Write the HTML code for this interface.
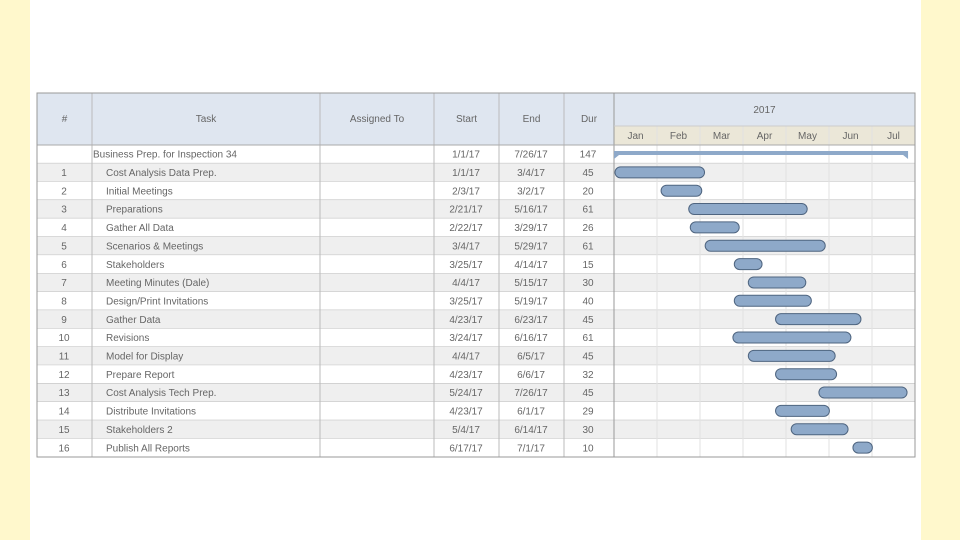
<!DOCTYPE html>
<html><head><meta charset="utf-8"><style>
body{margin:0;width:960px;height:540px;background:#fff;overflow:hidden;font-family:"Liberation Sans",sans-serif}
</style></head><body>
<svg id="c" width="960" height="540" xmlns="http://www.w3.org/2000/svg">
<rect x="0" y="0" width="30" height="540" fill="#fff8cc"/>
<rect x="921" y="0" width="39" height="540" fill="#fff8cc"/>
</svg>
<script>
const ids=["","1","2","3","4","5","6","7","8","9","10","11","12","13","14","15","16"];
const tasks=["Business Prep. for Inspection 34","Cost Analysis Data Prep.","Initial Meetings","Preparations","Gather All Data","Scenarios & Meetings","Stakeholders","Meeting Minutes (Dale)","Design/Print Invitations","Gather Data","Revisions","Model for Display","Prepare Report","Cost Analysis Tech Prep.","Distribute Invitations","Stakeholders 2","Publish All Reports"];
const starts=["1/1/17","1/1/17","2/3/17","2/21/17","2/22/17","3/4/17","3/25/17","4/4/17","3/25/17","4/23/17","3/24/17","4/4/17","4/23/17","5/24/17","4/23/17","5/4/17","6/17/17"];
const ends=["7/26/17","3/4/17","3/2/17","5/16/17","3/29/17","5/29/17","4/14/17","5/15/17","5/19/17","6/23/17","6/16/17","6/5/17","6/6/17","7/26/17","6/1/17","6/14/17","7/1/17"];
const durs=["147","45","20","61","26","61","15","30","40","45","61","45","32","45","29","30","10"];
const months=["Jan","Feb","Mar","Apr","May","Jun","Jul"];
const svg=document.getElementById('c');const NS="http://www.w3.org/2000/svg";
function el(t,a,txt){const e=document.createElementNS(NS,t);for(const k in a)e.setAttribute(k,a[k]);if(txt!==undefined)e.textContent=txt;svg.appendChild(e);return e;}
const L=37,R=915,T=93,H1=145,rowH=18.35,gx=614,mw=43;
const dim=[31,28,31,30,31,30,31];
function xOf(s,end){const [m,d]=s.split('/').map(Number);return gx+(m-1)*mw+((end?d:d-1)/dim[m-1])*mw;}
const cols=[[37,92,"#"],[92,320,"Task"],[320,434,"Assigned To"],[434,499,"Start"],[499,564,"End"],[564,614,"Dur"]];
let e=el('rect',{x:L,y:T,width:R-L,height:H1-T,fill:'#dfe6f0'});

e=el('rect',{x:gx,y:126,width:R-gx,height:19,fill:'#ebe7d8'});

cols.forEach(c=>{e=el('text',{x:(c[0]+c[1])/2,y:122,'text-anchor':'middle','font-size':10,fill:'#666'},c[2]);
});
e=el('text',{x:(gx+R)/2,y:113,'text-anchor':'middle','font-size':10,fill:'#666'},'2017');

months.forEach((m,i)=>{e=el('text',{x:gx+i*mw+mw/2,y:139,'text-anchor':'middle','font-size':10,fill:'#666'},m);
});
ids.forEach((id,i)=>{const y=H1+i*rowH;
 e=el('rect',{x:L,y:y,width:R-L,height:rowH,fill:i%2?'#efefef':'#fff'});
 
 el('line',{x1:L,x2:R,y1:y+rowH,y2:y+rowH,stroke:'#bbb','stroke-width':1});
 const ty=y+rowH/2+3.5;
 e=el('text',{x:64,y:ty,'text-anchor':'middle','font-size':10,fill:'#666'},id);
 e=el('text',{x:i?106:93,y:ty,'font-size':10,fill:'#666'},tasks[i]);
 e=el('text',{x:466,y:ty,'text-anchor':'middle','font-size':10,fill:'#666'},starts[i]);
 e=el('text',{x:531,y:ty,'text-anchor':'middle','font-size':10,fill:'#666'},ends[i]);
 e=el('text',{x:588,y:ty,'text-anchor':'middle','font-size':10,fill:'#666'},durs[i]);
});
for(let i=1;i<7;i++)el('line',{x1:gx+i*mw,x2:gx+i*mw,y1:126,y2:457,stroke:'#e2e2e2'});
[92,320,434,499,564].forEach(x=>el('line',{x1:x,x2:x,y1:T,y2:457,stroke:'#bbb'}));
el('line',{x1:gx,x2:gx,y1:T,y2:457,stroke:'#999'});
el('line',{x1:L,x2:R,y1:H1,y2:H1,stroke:'#aaa'});
el('line',{x1:gx,x2:R,y1:126,y2:126,stroke:'#ccc'});
el('rect',{x:L,y:T,width:R-L,height:457-T,fill:'none',stroke:'#999'});
ids.forEach((id,i)=>{const y=H1+i*rowH;const x1=xOf(starts[i],false),x2=xOf(ends[i],true);
 if(i===0){e=el('path',{d:`M${x1} ${y+6}H${x2}V${y+14}L${x2-5} ${y+10}H${x1+5}L${x1} ${y+14}Z`,fill:'#8ea9c9'});
  }
 else{e=el('rect',{x:x1+1,y:y+3.5,width:Math.max(x2-x1-2,4),height:11,rx:5.5,fill:'#8ea9c9',stroke:'#4f6580','stroke-width':1});
  }
});
</script>
</body></html>
